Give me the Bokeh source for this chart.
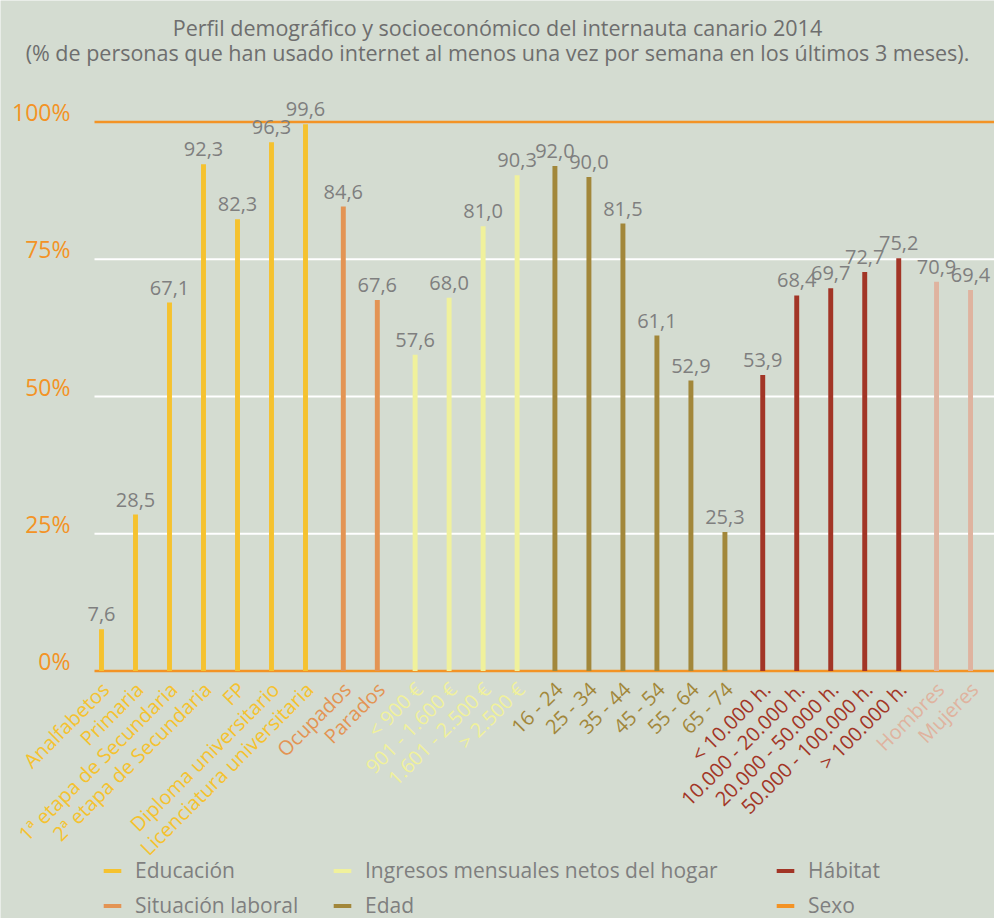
import math
from bokeh.plotting import figure
from bokeh.models import ColumnDataSource, Legend, LegendItem, Range1d
from bokeh.core.properties import value
from bokeh.embed import file_html
from bokeh.resources import INLINE

# ---------------- data ----------------
title_line1 = "Perfil demográfico y socioeconómico del internauta canario 2014"
title_line2 = "(% de personas que han usado internet al menos una vez por semana en los últimos 3 meses)."

groups = ["Educación", "Situación laboral", "Ingresos mensuales netos del hogar",
          "Edad", "Hábitat", "Sexo"]

educacion_cats = ["Analfabetos", "Primaria", "1ª etapa de Secundaria", "2ª etapa de Secundaria",
                  "FP", "Diploma universitario", "Licenciatura universitaria"]
educacion_vals = [7.6, 28.5, 67.1, 92.3, 82.3, 96.3, 99.6]

laboral_cats = ["Ocupados", "Parados"]
laboral_vals = [84.6, 67.6]

ingresos_cats = ["< 900 €", "901 - 1.600 €", "1.601 - 2.500 €", "> 2.500 €"]
ingresos_vals = [57.6, 68.0, 81.0, 90.3]

edad_cats = ["16 - 24", "25 - 34", "35 - 44", "45 - 54", "55 - 64", "65 - 74"]
edad_vals = [92.0, 90.0, 81.5, 61.1, 52.9, 25.3]

habitat_cats = ["< 10.000 h.", "10.000 - 20.000 h.", "20.000 - 50.000 h.",
                "50.000 - 100.000 h.", "> 100.000 h."]
habitat_vals = [53.9, 68.4, 69.7, 72.7, 75.2]

sexo_cats = ["Hombres", "Mujeres"]
sexo_vals = [70.9, 69.4]

y_ticks = [0, 25, 50, 75, 100]
y_tick_labels = ["0%", "25%", "50%", "75%", "100%"]

# ---------------- styles / layout ----------------
BG = "#d4dcd1"
ORANGE = "#f39325"
GREY = "#7f7f7f"
TITLE_GREY = "#6e6e6e"
FONT = value("Open Sans")
bar_colors = ["#f5c22f", "#e39454", "#f0f19c", "#a2873a", "#a23526", "#dfb39f"]
legend_colors = ["#f5c22f", "#e39454", "#f0f19c", "#a2873a", "#a23526", "#f39325"]

W, H = 994, 918
PX_X = 34.0          # pixels per category slot
GROUP_GAP = 0.112    # extra slot fraction between groups
FIRST_BAR_PX = 101   # pixel position of first bar
PX_Y = 5.49          # pixels per percentage point
ZERO_PX = 670.5      # pixel row of the 0% line (from top)
GRID_LEFT_PX = 94
YLABEL_RIGHT_PX = 70

x_start = -FIRST_BAR_PX / PX_X
x_end = x_start + W / PX_X
y_start = -(H - ZERO_PX) / PX_Y
y_end = ZERO_PX / PX_Y

all_cats = [educacion_cats, laboral_cats, ingresos_cats, edad_cats, habitat_cats, sexo_cats]
all_vals = [educacion_vals, laboral_vals, ingresos_vals, edad_vals, habitat_vals, sexo_vals]

p = figure(width=W, height=H, output_backend="svg", toolbar_location=None,
           x_range=Range1d(x_start, x_end), y_range=Range1d(y_start, y_end),
           min_border=0)
p.background_fill_color = BG
p.border_fill_color = BG
p.outline_line_color = None
p.xaxis.visible = False
p.yaxis.visible = False
p.xgrid.visible = False
p.ygrid.visible = False

# horizontal reference lines (white grid + orange 0% / 100%)
grid_x0 = x_start + GRID_LEFT_PX / PX_X
line_colors = [ORANGE if t in (0, 100) else "white" for t in y_ticks]
line_widths = [2.5 if t in (0, 100) else 2 for t in y_ticks]
p.segment(x0=[grid_x0] * len(y_ticks), x1=[x_end] * len(y_ticks), y0=y_ticks, y1=y_ticks,
          line_color=line_colors, line_width=line_widths)
# y tick labels (sitting just above their lines)
p.text(x=[x_start + YLABEL_RIGHT_PX / PX_X] * len(y_ticks), y=y_ticks, text=y_tick_labels,
       text_align="right", text_baseline="middle", y_offset=-10, text_font=FONT,
       text_font_size="23px", text_color=ORANGE)

renderers = []
k = 0
for gi, (g, cats, vals, col) in enumerate(zip(groups, all_cats, all_vals, bar_colors)):
    xs = [k + i + gi * GROUP_GAP for i in range(len(cats))]
    k += len(cats)
    src = ColumnDataSource(data=dict(
        x=xs, top=vals, cat=cats,
        lab=[f"{v:.1f}".replace(".", ",") for v in vals],
    ))
    r = p.vbar(x="x", top="top", bottom=0, width=0.145, source=src,
               fill_color=col, line_color=None)
    renderers.append(r)
    p.text(x="x", y="top", text="lab", source=src, text_align="center",
           text_baseline="middle", y_offset=-15, text_font=FONT,
           text_font_size="20px", text_color=GREY)
    p.text(x="x", y=-2.5, text="cat", source=src, angle=math.pi / 4,
           text_align="right", text_baseline="middle", x_offset=4, y_offset=1,
           text_font=FONT, text_font_size="20px", text_color=col)
    if g == "Sexo":
        sexo_x = xs

# legend-only renderer for 'Sexo' (legend swatch is orange in the original): zero-height bars
sexo_leg = p.vbar(x=sexo_x, top=0, bottom=0, width=0.1, fill_color=legend_colors[5],
                  line_color=None)
leg_renderers = renderers[:5] + [sexo_leg]

def make_legend(idx, loc):
    leg = Legend(items=[LegendItem(label=groups[i], renderers=[leg_renderers[i]]) for i in idx],
                 location=loc, orientation="vertical", padding=0, margin=0,
                 border_line_color=None, background_fill_alpha=0,
                 glyph_width=22, glyph_height=5, label_standoff=12, spacing=7,
                 label_height=22, label_text_font="Open Sans",
                 label_text_font_size="21px", label_text_color=GREY)
    p.add_layout(leg, "center")

make_legend([0, 1], (101, -1))
make_legend([2, 3], (331, -1))
make_legend([4, 5], (774, -1))

# title (two centred lines)
x_mid = (x_start + x_end) / 2
p.text(x=[x_mid, x_mid], y=[(ZERO_PX - 27) / PX_Y, (ZERO_PX - 52) / PX_Y],
       text=[title_line1, title_line2], text_align="center", text_baseline="middle",
       text_font=FONT, text_font_size="21.5px", text_color=TITLE_GREY)

html = file_html(p, INLINE)
html = html.replace("<body>", '<body style="background-color:%s">' % BG, 1)
open("out.html", "w").write(html)
